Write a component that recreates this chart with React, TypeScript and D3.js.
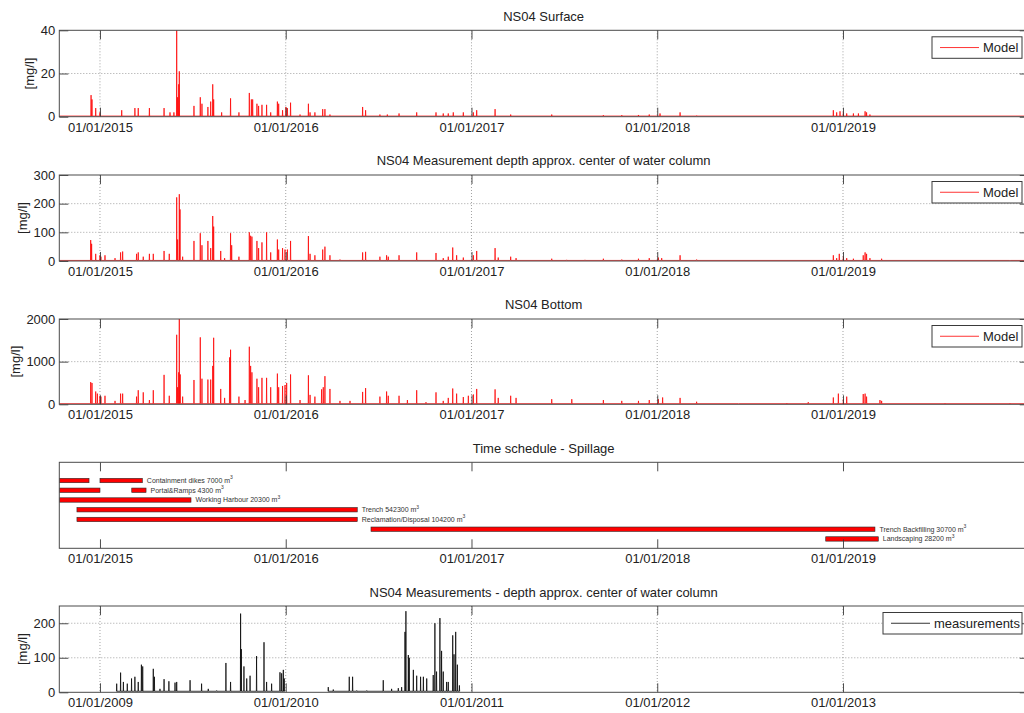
import React, { useEffect, useRef } from 'react';
import * as d3 from 'd3';

// ---- data (decimal years) ----
const modelYears = [2015, 2016, 2017, 2018, 2019];
const measYears = [2009, 2010, 2011, 2012, 2013];
const modelDomain: [number, number] = [2014.781, 2020.0];
const measDomain: [number, number] = [2008.781, 2014.0];

const surfaceTicks = [0, 20, 40];
const centerTicks = [0, 100, 200, 300];
const bottomTicks = [0, 1000, 2000];
const measTicks = [0, 100, 200];

const surfaceSpikes: [number, number][] = [
  [2014.952, 10], [2014.957, 8], [2014.977, 4], [2015.0, 2], [2015.117, 3], [2015.188, 4],
  [2015.206, 4], [2015.266, 4], [2015.345, 4], [2015.377, 2], [2015.398, 2], [2015.413, 40],
  [2015.418, 9], [2015.424, 15], [2015.427, 21], [2015.506, 5], [2015.54, 9], [2015.549, 6],
  [2015.581, 4.5], [2015.596, 7], [2015.607, 15], [2015.612, 8], [2015.655, 2], [2015.703, 8.5],
  [2015.748, 2], [2015.804, 11], [2015.815, 8], [2015.822, 8], [2015.845, 6], [2015.854, 5],
  [2015.872, 5.5], [2015.897, 5.5], [2015.919, 2], [2015.955, 7], [2015.962, 6], [2015.983, 3],
  [2016.001, 4.5], [2016.009, 4], [2016.026, 6.5], [2016.077, 1], [2016.122, 6], [2016.131, 2],
  [2016.157, 2], [2016.199, 3.5], [2016.211, 3.5], [2016.238, 1], [2016.414, 4.5], [2016.43, 3],
  [2016.507, 1], [2016.547, 1], [2016.61, 1.5], [2016.705, 2], [2016.809, 2], [2016.848, 1.5],
  [2016.875, 1.5], [2016.902, 2], [2016.956, 2], [2017.01, 2], [2017.028, 3], [2017.127, 3.5],
  [2017.211, 1], [2017.432, 1], [2017.71, 0.7], [2017.809, 0.7], [2017.899, 0.8], [2017.957, 1],
  [2018.015, 1.5], [2018.123, 2], [2018.212, 0.5], [2018.948, 3], [2018.966, 2], [2018.984, 2.5],
  [2019.002, 2], [2019.02, 1.5], [2019.056, 1.5], [2019.083, 1.5], [2019.119, 2.5], [2019.127, 2],
  [2019.145, 1],
];

const centerSpikes: [number, number][] = [
  [2014.95, 73], [2014.955, 60], [2014.977, 25], [2015.0, 20], [2015.005, 15], [2015.027, 20],
  [2015.081, 10], [2015.111, 30], [2015.122, 33], [2015.197, 25], [2015.206, 30], [2015.233, 15],
  [2015.266, 25], [2015.287, 25], [2015.345, 35], [2015.373, 25], [2015.413, 222], [2015.418, 75],
  [2015.427, 233], [2015.431, 180], [2015.445, 15], [2015.506, 70], [2015.54, 97], [2015.549, 55],
  [2015.581, 70], [2015.596, 45], [2015.607, 157], [2015.612, 120], [2015.65, 35], [2015.671, 10],
  [2015.703, 97], [2015.709, 55], [2015.748, 15], [2015.804, 100], [2015.811, 88], [2015.818, 85],
  [2015.845, 70], [2015.854, 45], [2015.872, 65], [2015.897, 100], [2015.919, 30], [2015.955, 75],
  [2015.962, 40], [2015.983, 45], [2015.996, 40], [2016.009, 40], [2016.026, 70], [2016.122, 87],
  [2016.131, 25], [2016.157, 20], [2016.199, 40], [2016.211, 50], [2016.238, 20], [2016.292, 5],
  [2016.414, 30], [2016.43, 32], [2016.507, 15], [2016.543, 20], [2016.552, 15], [2016.61, 20],
  [2016.705, 30], [2016.809, 28], [2016.848, 10], [2016.875, 15], [2016.899, 47], [2016.92, 20],
  [2016.956, 12], [2017.01, 20], [2017.028, 35], [2017.127, 45], [2017.144, 12], [2017.211, 15],
  [2017.24, 10], [2017.432, 8], [2017.512, 4], [2017.611, 4], [2017.71, 8], [2017.809, 5],
  [2017.899, 8], [2017.957, 10], [2018.006, 12], [2018.024, 10], [2018.123, 20], [2018.212, 5],
  [2018.948, 20], [2018.966, 10], [2018.98, 25], [2019.002, 15], [2019.02, 10], [2019.056, 8],
  [2019.109, 20], [2019.119, 30], [2019.127, 25], [2019.145, 10], [2019.208, 8], [2019.899, 3],
];

const bottomSpikes: [number, number][] = [
  [2014.95, 520], [2014.957, 500], [2014.977, 300], [2014.986, 250], [2015.0, 200], [2015.005, 180],
  [2015.027, 200], [2015.081, 80], [2015.111, 250], [2015.122, 250], [2015.197, 180], [2015.206, 330],
  [2015.233, 280], [2015.266, 100], [2015.287, 330], [2015.345, 690], [2015.373, 200], [2015.413, 1630],
  [2015.418, 400], [2015.424, 750], [2015.427, 2000], [2015.432, 700], [2015.445, 180], [2015.506, 570],
  [2015.54, 1570], [2015.549, 600], [2015.581, 580], [2015.596, 580], [2015.607, 900], [2015.612, 1560],
  [2015.65, 360], [2015.671, 150], [2015.698, 1100], [2015.703, 1280], [2015.748, 180], [2015.781, 100],
  [2015.804, 1350], [2015.811, 900], [2015.818, 750], [2015.845, 600], [2015.854, 400], [2015.872, 620],
  [2015.897, 620], [2015.919, 400], [2015.955, 720], [2015.962, 400], [2015.983, 430], [2015.996, 450],
  [2016.005, 500], [2016.026, 700], [2016.077, 100], [2016.122, 680], [2016.131, 220], [2016.157, 180],
  [2016.193, 350], [2016.202, 400], [2016.211, 660], [2016.238, 360], [2016.292, 80], [2016.346, 80],
  [2016.414, 290], [2016.43, 380], [2016.507, 180], [2016.543, 300], [2016.552, 200], [2016.61, 200],
  [2016.655, 100], [2016.705, 330], [2016.755, 50], [2016.809, 280], [2016.848, 80], [2016.875, 150],
  [2016.899, 370], [2016.92, 250], [2016.956, 170], [2016.983, 200], [2017.01, 230], [2017.028, 360],
  [2017.127, 350], [2017.144, 150], [2017.211, 200], [2017.24, 150], [2017.432, 120], [2017.54, 120],
  [2017.71, 100], [2017.809, 80], [2017.899, 80], [2017.957, 100], [2018.006, 120], [2018.029, 160],
  [2018.123, 150], [2018.212, 60], [2018.437, 20], [2018.697, 30], [2018.813, 50], [2018.948, 160],
  [2018.975, 250], [2019.002, 120], [2019.02, 180], [2019.109, 240], [2019.119, 250], [2019.127, 180],
  [2019.199, 100], [2019.208, 80], [2019.549, 30], [2019.899, 30],
];

const measPeriods: [number, number][] = [[2009.09, 2009.996], [2010.229, 2010.938]];
const measSpikes: [number, number][] = [
  [2009.09, 25], [2009.111, 57], [2009.126, 30], [2009.147, 25], [2009.17, 40], [2009.188, 45],
  [2009.206, 30], [2009.223, 80], [2009.23, 75], [2009.287, 68], [2009.293, 45], [2009.323, 10],
  [2009.345, 38], [2009.371, 32], [2009.404, 28], [2009.413, 30], [2009.485, 35], [2009.547, 25],
  [2009.583, 10], [2009.628, 5], [2009.678, 85], [2009.703, 30], [2009.757, 228], [2009.761, 125],
  [2009.775, 75], [2009.79, 40], [2009.808, 48], [2009.843, 105], [2009.883, 145], [2009.897, 30],
  [2009.924, 25], [2009.969, 58], [2009.978, 55], [2009.987, 65], [2009.992, 40],
  [2010.229, 15], [2010.256, 8], [2010.342, 45], [2010.36, 45], [2010.382, 5], [2010.436, 5],
  [2010.525, 35], [2010.57, 10], [2010.606, 12], [2010.624, 15], [2010.642, 175], [2010.647, 235],
  [2010.66, 108], [2010.665, 100], [2010.687, 65], [2010.705, 48], [2010.726, 45], [2010.741, 45],
  [2010.759, 40], [2010.794, 50], [2010.803, 200], [2010.812, 60], [2010.83, 215], [2010.839, 120],
  [2010.848, 60], [2010.866, 30], [2010.875, 30], [2010.899, 165], [2010.906, 110], [2010.915, 175],
  [2010.924, 80], [2010.935, 20],
];

const activityNames = ['Containment dikes', 'Portal&Ramps', 'Working Harbour', 'Trench',
  'Reclamation/Disposal', 'Trench Backfilling', 'Landscaping'];
const activityVolumes = [7000, 4300, 20300, 542300, 104200, 30700, 28200];
const activitySegments: [number, number][][] = [
  [[2014.781, 2014.941], [2015.0, 2015.228]],
  [[2014.781, 2015.0], [2015.171, 2015.248]],
  [[2014.781, 2015.49]],
  [[2014.876, 2016.385]],
  [[2014.876, 2016.385]],
  [[2016.459, 2019.172]],
  [[2018.907, 2019.19]],
];

// ---- layout ----
const FONT = '"Liberation Sans", Arial, Helvetica, sans-serif';
const LEFT = 59.3, RIGHT = 1028.75;
const W = 1024, H = 713;

const spikePoints = (spikes: [number, number][], base: number, start: number, end: number) => {
  const w = 0.0012;
  const pts: [number, number][] = [[start, base]];
  spikes.filter(s => s[0] >= start && s[0] <= end).sort((a, b) => a[0] - b[0]).forEach(([t, v]) => {
    pts.push([t - w, base], [t, v], [t + w, base]);
  });
  pts.push([end, base]);
  return pts;
};

const App = () => {
  const svgRef = useRef<SVGSVGElement>(null);

  useEffect(() => {
    const svg = d3.select(svgRef.current);
    svg.selectAll('*').remove();
    svg.append('rect').attr('width', W).attr('height', H).attr('fill', '#fff');

    const styleAxis = (a: any) => {
      a.select('.domain').remove();
      a.attr('font-size', 13).attr('font-family', FONT);
      a.selectAll('line').attr('stroke', '#3a3a3a').attr('stroke-width', 0.9);
      a.selectAll('text').attr('fill', '#222');
    };

    const drawFrame = (g: any, x: any, p: any, years: number[]) => {
      g.append('text')
        .attr('x', (LEFT + 1022) / 2 + 3)
        .attr('y', p.titleY)
        .attr('text-anchor', 'middle')
        .attr('font-size', 13)
        .attr('font-family', FONT)
        .attr('fill', '#222')
        .text(p.title);

      g.append('g').attr('transform', `translate(0,${p.bottom})`)
        .call(d3.axisBottom(x).tickValues(years).tickSize(-9).tickPadding(5.6)
          .tickFormat((d: any) => `01/01/${d}`))
        .call(styleAxis);
      g.append('g').attr('transform', `translate(0,${p.top})`)
        .call(d3.axisTop(x).tickValues(years).tickSize(-9).tickFormat(() => ''))
        .call(styleAxis);
    };

    const drawBox = (g: any, p: any) => {
      g.append('rect')
        .attr('x', LEFT).attr('y', p.top)
        .attr('width', RIGHT - LEFT).attr('height', p.bottom - p.top)
        .attr('fill', 'none').attr('stroke', '#4a4a4a').attr('stroke-width', 1);
    };

    const timePanels = [
      { key: 'surf', title: 'NS04 Surface', top: 30.3, bottom: 116.7, titleY: 20.5, yMax: 40, ticks: surfaceTicks,
        spikes: surfaceSpikes, base: 0.3, periods: [modelDomain], domain: modelDomain, years: modelYears,
        color: '#ff0000', legend: 'Model', legendW: 90, labelX: 29 },
      { key: 'cent', title: 'NS04 Measurement depth approx. center of water column', top: 175, bottom: 261, titleY: 165,
        yMax: 300, ticks: centerTicks, spikes: centerSpikes, base: 2, periods: [modelDomain], domain: modelDomain,
        years: modelYears, color: '#ff0000', legend: 'Model', legendW: 90, labelX: 22 },
      { key: 'bot', title: 'NS04 Bottom', top: 319, bottom: 404.3, titleY: 308.5, yMax: 2000, ticks: bottomTicks,
        spikes: bottomSpikes, base: 15, periods: [modelDomain], domain: modelDomain, years: modelYears,
        color: '#ff0000', legend: 'Model', legendW: 90, labelX: 15.5 },
      { key: 'meas', title: 'NS04 Measurements - depth approx. center of water column', top: 606, bottom: 692.3,
        titleY: 596.5, yMax: 250, ticks: measTicks, spikes: measSpikes, base: 3, periods: measPeriods,
        domain: measDomain, years: measYears, color: '#000000', legend: 'measurements', legendW: 139, labelX: 22 },
    ];

    timePanels.forEach(p => {
      const x = d3.scaleLinear().domain(p.domain).range([LEFT, RIGHT]);
      const y = d3.scaleLinear().domain([0, p.yMax]).range([p.bottom, p.top]);
      const g = svg.append('g');

      // grid
      g.selectAll('.vgrid').data(p.years).enter().append('line')
        .attr('x1', (d: number) => x(d)).attr('x2', (d: number) => x(d))
        .attr('y1', p.top).attr('y2', p.bottom)
        .attr('stroke', '#8c8c8c').attr('stroke-width', 0.8).attr('stroke-dasharray', '1,2');
      g.selectAll('.hgrid').data(p.ticks.filter(t => t > 0 && t < p.yMax)).enter().append('line')
        .attr('x1', LEFT).attr('x2', RIGHT)
        .attr('y1', (d: number) => y(d)).attr('y2', (d: number) => y(d))
        .attr('stroke', '#8c8c8c').attr('stroke-width', 0.8).attr('stroke-dasharray', '1,2');

      // data
      const clipId = 'clip-' + p.key;
      g.append('clipPath').attr('id', clipId).append('rect')
        .attr('x', LEFT).attr('y', p.top).attr('width', RIGHT - LEFT).attr('height', p.bottom - p.top);
      const line = d3.line<[number, number]>().x(d => x(d[0])).y(d => y(d[1]));
      p.periods.forEach(per => {
        g.append('path')
          .attr('d', line(spikePoints(p.spikes, p.base, per[0], per[1])))
          .attr('fill', 'none')
          .attr('stroke', p.color)
          .attr('stroke-width', 0.75)
          .attr('clip-path', `url(#${clipId})`);
      });

      // axes
      drawFrame(g, x, p, p.years);
      g.append('g').attr('transform', `translate(${LEFT},0)`)
        .call(d3.axisLeft(y).tickValues(p.ticks).tickSize(-9).tickPadding(4).tickFormat(d3.format('d')))
        .call(styleAxis);
      g.append('g').attr('transform', `translate(${RIGHT},0)`)
        .call(d3.axisRight(y).tickValues(p.ticks).tickSize(-9).tickFormat(() => ''))
        .call(styleAxis);
      drawBox(g, p);

      g.append('text')
        .attr('transform', `translate(${p.labelX},${(p.top + p.bottom) / 2}) rotate(-90)`)
        .attr('text-anchor', 'middle')
        .attr('dy', '0.35em')
        .attr('font-size', 13)
        .attr('font-family', FONT)
        .attr('fill', '#222')
        .text('[mg/l]');

      // legend
      const lx = 1022 - p.legendW, ly = p.top + 6.5, lh = 21.5;
      const lg = g.append('g');
      lg.append('rect').attr('x', lx).attr('y', ly).attr('width', p.legendW).attr('height', lh)
        .attr('fill', '#fff').attr('stroke', '#3a3a3a').attr('stroke-width', 1);
      lg.append('line').attr('x1', lx + 8).attr('x2', lx + 47).attr('y1', ly + lh / 2).attr('y2', ly + lh / 2)
        .attr('stroke', p.color).attr('stroke-width', 0.8);
      lg.append('text').attr('x', lx + 51).attr('y', ly + lh / 2).attr('dy', '0.35em')
        .attr('font-size', 13).attr('font-family', FONT).attr('fill', '#222').text(p.legend);
    });

    // schedule panel
    const sp = { title: 'Time schedule - Spillage', top: 462.3, bottom: 548.3, titleY: 452.5 };
    const xs = d3.scaleLinear().domain(modelDomain).range([LEFT, RIGHT]);
    const ys = d3.scaleLinear().domain([-1.87, 6.96]).range([sp.top, sp.bottom]);
    const gs = svg.append('g');
    gs.append('clipPath').attr('id', 'clip-sched').append('rect')
      .attr('x', LEFT).attr('y', sp.top).attr('width', RIGHT - LEFT).attr('height', sp.bottom - sp.top);
    const rows = activityNames.map((n, i) => ({ name: n, vol: activityVolumes[i], segs: activitySegments[i], i }));
    rows.forEach(r => {
      gs.selectAll(null).data(r.segs).enter().append('rect')
        .attr('x', (d: [number, number]) => xs(d[0]))
        .attr('width', (d: [number, number]) => xs(d[1]) - xs(d[0]))
        .attr('y', ys(r.i) - 2.2)
        .attr('height', 4.4)
        .attr('fill', '#ff0000')
        .attr('stroke', '#2a2a2a')
        .attr('stroke-width', 0.6)
        .attr('clip-path', 'url(#clip-sched)');
      const end = d3.max(r.segs, s => s[1]) as number;
      const t = gs.append('text')
        .attr('x', xs(end) + 4.5)
        .attr('y', ys(r.i))
        .attr('dy', '0.35em')
        .attr('font-size', 7)
        .attr('font-family', FONT)
        .attr('fill', '#333');
      t.append('tspan').text(`${r.name} ${r.vol} m`);
      t.append('tspan').attr('dy', '-3.5').attr('font-size', 5).text('3');
    });
    drawFrame(gs, xs, sp, modelYears);
    drawBox(gs, sp);
  }, []);

  return (
    <div>
      <svg ref={svgRef} width={W} height={H} style={{ position: 'absolute', left: 0, top: 0 }}></svg>
    </div>
  );
};

export default App;
